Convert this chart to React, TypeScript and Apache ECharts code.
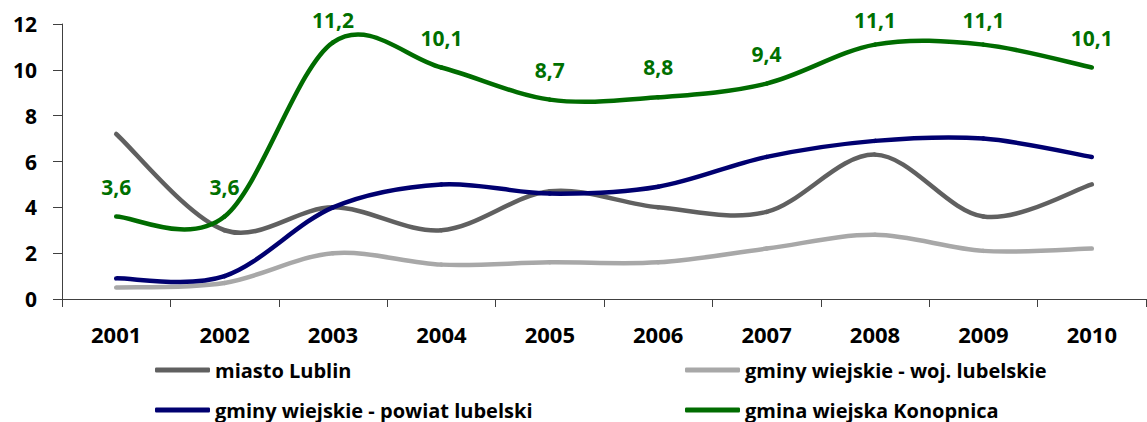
import React, { useEffect, useRef } from "react";
import * as echarts from "echarts";

const years = ["2001", "2002", "2003", "2004", "2005", "2006", "2007", "2008", "2009", "2010"];
const miastoLublin = [7.2, 3.0, 4.0, 3.0, 4.7, 4.0, 3.8, 6.3, 3.6, 5.0];
const wojLubelskie = [0.5, 0.7, 2.0, 1.5, 1.6, 1.6, 2.2, 2.8, 2.1, 2.2];
const powiatLubelski = [0.9, 1.0, 4.0, 5.0, 4.6, 4.9, 6.2, 6.9, 7.0, 6.2];
const konopnica = [3.6, 3.6, 11.2, 10.1, 8.7, 8.8, 9.4, 11.1, 11.1, 10.1];

const FONT = "'Open Sans', 'Liberation Sans', sans-serif";

export default function App() {
  const ref = useRef<HTMLDivElement>(null);
  useEffect(() => {
    if (!ref.current) return;
    const chart = echarts.init(ref.current, null, { renderer: "svg" });

    const mk = (name: string, data: number[], color: string, z: number, labels = false) => ({
      name,
      type: "custom",
      z,
      data: data.map((v, i) => [i, v]),
      encode: { x: 0, y: 1 },
      itemStyle: { color },
      renderItem: (params: any, api: any) => {
        const i = params.dataIndex;
        const n = data.length;
        const P = (k: number) => {
          const kk = Math.max(0, Math.min(n - 1, k));
          return api.coord([kk, data[kk]]);
        };
        const children: any[] = [];
        if (i < n - 1) {
          const p0 = P(i - 1);
          const p1 = P(i);
          const p2 = P(i + 1);
          const p3 = P(i + 2);
          const t = 1 / 6;
          children.push({
            type: "bezierCurve",
            shape: {
              x1: p1[0],
              y1: p1[1],
              x2: p2[0],
              y2: p2[1],
              cpx1: p1[0] + (p2[0] - p0[0]) * t,
              cpy1: p1[1] + (p2[1] - p0[1]) * t,
              cpx2: p2[0] - (p3[0] - p1[0]) * t,
              cpy2: p2[1] - (p3[1] - p1[1]) * t,
            },
            style: { stroke: color, lineWidth: 4.5, fill: null, lineCap: "round" },
          });
        }
        if (labels) {
          const p = P(i);
          children.push({
            type: "text",
            x: p[0],
            y: Math.max(p[1] - 30, 20),
            z2: 10,
            style: {
              text: String(data[i]).replace(".", ","),
              fill: "#007000",
              fontFamily: FONT,
              fontWeight: "bold",
              fontSize: 21,
              align: "center",
              verticalAlign: "middle",
            },
          });
        }
        return { type: "group", children };
      },
    });

    const legendItem = (name: string, left: number, top: number) => ({
      orient: "horizontal",
      left,
      top,
      itemWidth: 55,
      itemHeight: 5,
      icon: "roundRect",
      padding: 0,
      data: [name],
      textStyle: { color: "#000", fontFamily: FONT, fontWeight: "bold", fontSize: 20, lineHeight: 22 },
    });

    chart.setOption({
      animation: false,
      backgroundColor: "#ffffff",
      grid: { left: 62, right: 1, top: 24, bottom: 123 },
      xAxis: {
        type: "category",
        data: years,
        boundaryGap: true,
        axisLine: { lineStyle: { color: "#404040", width: 1 } },
        axisTick: { show: true, length: 8, lineStyle: { color: "#404040" } },
        axisLabel: {
          color: "#000",
          fontFamily: FONT,
          fontWeight: "bold",
          fontSize: 22,
          margin: 24,
        },
      },
      yAxis: {
        type: "value",
        min: 0,
        max: 12,
        interval: 2,
        splitLine: { show: false },
        axisLine: { show: true, lineStyle: { color: "#404040", width: 1 } },
        axisTick: { show: true, length: 9, lineStyle: { color: "#404040" } },
        axisLabel: {
          color: "#000",
          fontFamily: FONT,
          fontWeight: "bold",
          fontSize: 21,
          margin: 25,
        },
      },
      legend: [
        legendItem("miasto Lublin", 155, 359),
        legendItem("gminy wiejskie - powiat lubelski", 155, 399),
        legendItem("gminy wiejskie - woj. lubelskie", 685, 359),
        legendItem("gmina wiejska Konopnica", 685, 399),
      ],
      series: [
        mk("miasto Lublin", miastoLublin, "#606060", 2),
        mk("gminy wiejskie - woj. lubelskie", wojLubelskie, "#a8a8a8", 1),
        mk("gminy wiejskie - powiat lubelski", powiatLubelski, "#000070", 3),
        mk("gmina wiejska Konopnica", konopnica, "#006c00", 4, true),
      ],
    });
    return () => chart.dispose();
  }, []);
  return (
    <div
      ref={ref}
      style={{ position: "absolute", left: 0, top: 0, width: 1147, height: 422, background: "#fff" }}
    />
  );
}
